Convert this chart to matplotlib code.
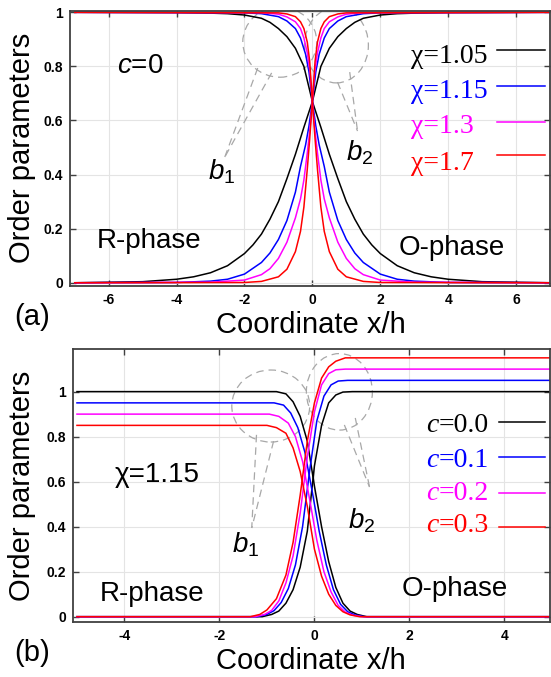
import matplotlib
matplotlib.use("Agg")
import matplotlib.pyplot as plt
from matplotlib.patches import Ellipse

plt.rcParams['font.family'] = ['Liberation Sans', 'DejaVu Sans']
plt.rcParams['mathtext.fontset'] = 'custom'
plt.rcParams['mathtext.rm'] = 'Liberation Sans'
plt.rcParams['mathtext.it'] = 'Liberation Sans:italic'
plt.rcParams['axes.unicode_minus'] = False

###############################################################################
# Data
###############################################################################

# panel (a): c=0, decreasing branch; the increasing branch is its mirror (-x)
chi_labels = ['χ=1.05', 'χ=1.15', 'χ=1.3', 'χ=1.7']
colors = ['black', 'blue', 'magenta', 'red']

a_x_105 = [-7, -4, -3, -2.5, -2, -1.5, -1.25, -1, -0.75, -0.5, -0.25, 0, 0.25, 0.5,
           0.75, 1, 1.25, 1.5, 1.75, 2, 2.5, 3, 3.5, 4, 5, 7]
a_y_105 = [1, 0.999, 0.997, 0.995, 0.99, 0.978, 0.963, 0.94, 0.91, 0.867, 0.80, 0.67,
           0.575, 0.475, 0.385, 0.30, 0.235, 0.18, 0.14, 0.108, 0.063, 0.037, 0.022,
           0.013, 0.004, 0]

a_x_115 = [-7, -2, -1.5, -1, -0.75, -0.5, -0.35, -0.2, -0.1, 0, 0.1, 0.2, 0.35, 0.5,
           0.75, 1, 1.25, 1.5, 2, 2.5, 3, 4, 7]
a_y_115 = [1, 0.998, 0.995, 0.984, 0.968, 0.94, 0.905, 0.845, 0.78, 0.67, 0.58, 0.51,
           0.43, 0.335, 0.23, 0.16, 0.11, 0.075, 0.032, 0.013, 0.006, 0.001, 0]

a_x_13 = [-7, -1.5, -1, -0.75, -0.5, -0.35, -0.25, -0.15, -0.07, 0, 0.07, 0.15, 0.25,
          0.35, 0.5, 0.75, 1, 1.25, 1.5, 2, 3, 7]
a_y_13 = [1, 0.999, 0.993, 0.983, 0.965, 0.94, 0.905, 0.85, 0.78, 0.67, 0.57, 0.48,
          0.38, 0.31, 0.24, 0.15, 0.09, 0.052, 0.03, 0.01, 0.002, 0]

a_x_17 = [-7, -1, -0.75, -0.5, -0.35, -0.25, -0.15, -0.08, 0, 0.08, 0.15, 0.25, 0.35,
          0.5, 0.75, 1, 1.5, 2, 7]
a_y_17 = [1, 0.998, 0.994, 0.984, 0.965, 0.94, 0.89, 0.82, 0.67, 0.53, 0.42, 0.28,
          0.19, 0.115, 0.05, 0.022, 0.005, 0.001, 0]

# panel (b): chi=1.15, decreasing (R) and increasing (O) branches
c_labels = ['0.0', '0.1', '0.2', '0.3']

b_xd_00 = [-5, -0.8, -0.6, -0.45, -0.3, -0.15, 0.0, 0.15, 0.3, 0.45, 0.6, 0.75, 0.9, 1.1, 5]
b_yd_00 = [1.0, 1.0, 0.99, 0.955, 0.89, 0.78, 0.58, 0.40, 0.245, 0.13, 0.06, 0.025, 0.01, 0.0, 0.0]
b_xi_00 = [-5, -1.1, -0.9, -0.75, -0.6, -0.45, -0.3, -0.15, 0.0, 0.15, 0.3, 0.45, 0.6, 0.8, 5]
b_yi_00 = [0, 0, 0.01, 0.025, 0.06, 0.12, 0.22, 0.38, 0.67, 0.85, 0.95, 0.985, 0.998, 1.0, 1.0]

b_xd_01 = [-5, -0.85, -0.65, -0.5, -0.35, -0.2, -0.05, 0.1, 0.25, 0.4, 0.55, 0.7, 0.85, 1.05, 5]
b_yd_01 = [0.95, 0.95, 0.94, 0.905, 0.84, 0.73, 0.56, 0.38, 0.23, 0.12, 0.055, 0.022, 0.008, 0.0, 0.0]
b_xi_01 = [-5, -1.2, -1.0, -0.85, -0.7, -0.55, -0.4, -0.25, -0.1, 0.05, 0.2, 0.35, 0.5, 0.7, 5]
b_yi_01 = [0, 0, 0.01, 0.027, 0.063, 0.125, 0.23, 0.40, 0.65, 0.87, 0.98, 1.03, 1.047, 1.05, 1.05]

b_xd_02 = [-5, -0.95, -0.75, -0.55, -0.4, -0.25, -0.1, 0.05, 0.2, 0.35, 0.5, 0.65, 0.8, 1.0, 5]
b_yd_02 = [0.90, 0.90, 0.89, 0.86, 0.80, 0.69, 0.52, 0.34, 0.20, 0.11, 0.05, 0.02, 0.007, 0.0, 0.0]
b_xi_02 = [-5, -1.25, -1.05, -0.9, -0.75, -0.6, -0.45, -0.3, -0.15, 0.0, 0.15, 0.3, 0.45, 0.65, 5]
b_yi_02 = [0, 0, 0.01, 0.028, 0.07, 0.15, 0.27, 0.46, 0.71, 0.91, 1.03, 1.08, 1.097, 1.10, 1.10]

b_xd_03 = [-5, -1.0, -0.8, -0.6, -0.45, -0.3, -0.15, 0.0, 0.15, 0.3, 0.45, 0.6, 0.75, 0.95, 5]
b_yd_03 = [0.85, 0.85, 0.84, 0.815, 0.75, 0.645, 0.49, 0.30, 0.18, 0.10, 0.05, 0.022, 0.008, 0.0, 0.0]
b_xi_03 = [-5, -1.35, -1.15, -1.0, -0.8, -0.6, -0.45, -0.3, -0.15, 0.0, 0.15, 0.3, 0.45, 0.65, 5]
b_yi_03 = [0, 0, 0.01, 0.03, 0.08, 0.185, 0.33, 0.54, 0.78, 0.95, 1.06, 1.11, 1.135, 1.15, 1.15]

a_xticks = [-6, -4, -2, 0, 2, 4, 6]
b_xticks = [-4, -2, 0, 2, 4]
yticks = [0, 0.2, 0.4, 0.6, 0.8, 1]
ytick_labels = ['0', '0.2', '0.4', '0.6', '0.8', '1']

###############################################################################
# Figure
###############################################################################

W, H = 551, 677
fig = plt.figure(figsize=(W / 100, H / 100), dpi=100)


def px_axes(l, t, r, b):
    return fig.add_axes([l / W, 1 - b / H, (r - l) / W, (b - t) / H])


def style(ax, xticks):
    ax.set_xticks(xticks)
    ax.set_xticklabels([str(t) for t in xticks])
    ax.set_yticks(yticks)
    ax.set_yticklabels(ytick_labels)
    ax.grid(color='#e4e4e4', lw=0.8)
    ax.set_axisbelow(True)
    ax.tick_params(direction='in', length=4, width=1, color='#404040',
                   top=True, right=True, labelsize=10, pad=5)
    for lab in ax.get_xticklabels() + ax.get_yticklabels():
        lab.set_fontweight('bold')
    for s in ax.spines.values():
        s.set_color('#404040')
        s.set_linewidth(1.3)


def callout(ax, center, w, h, base1, base2, tip):
    kw = dict(color='#a8a8a8', lw=0.9, ls=(0, (6, 4)))
    ax.add_patch(Ellipse(center, w, h, fill=False, ec='#a8a8a8', lw=0.9, ls=(0, (6, 4))))
    ax.plot([base1[0], tip[0]], [base1[1], tip[1]], **kw)
    ax.plot([base2[0], tip[0]], [base2[1], tip[1]], **kw)


# ---------------- panel (a) ----------------
ax = px_axes(70, 10.7, 550, 286)
ax.set_xlim(-7.14, 7.0)
ax.set_ylim(-0.012, 1.006)
style(ax, a_xticks)

a_curves = [(a_x_105, a_y_105), (a_x_115, a_y_115), (a_x_13, a_y_13), (a_x_17, a_y_17)]
for (xs, ys), col in zip(a_curves, colors):
    ax.plot(xs, ys, color=col, lw=1.1)
    ax.plot([-v for v in xs], ys, color=col, lw=1.1)

callout(ax, (-0.96, 0.89), 2.18, 0.26, (-1.61, 0.794), (-1.2, 0.776), (-2.58, 0.465))
callout(ax, (0.71, 0.879), 1.88, 0.28, (0.74, 0.742), (1.10, 0.779), (1.33, 0.561))

ax.text(-2.66, 0.41, '$b_1$', fontsize=20, ha='center', va='center')
ax.text(1.39, 0.48, '$b_2$', fontsize=20, ha='center', va='center')
ax.text(-5.08, 0.80, '$c$=0', fontsize=20, ha='center', va='center')
ax.text(-4.81, 0.155, 'R-phase', fontsize=20, ha='center', va='center')
ax.text(4.1, 0.13, 'O-phase', fontsize=20, ha='center', va='center')

leg_text_y = [0.811, 0.682, 0.553, 0.417]
leg_line_y = [0.861, 0.727, 0.594, 0.472]
for lab, col, ty, ly in zip(chi_labels, colors, leg_text_y, leg_line_y):
    ax.text(2.92, ty, lab, color=col, fontsize=20, family='Liberation Serif',
            ha='left', va='baseline')
    ax.plot([5.45, 6.86], [ly, ly], color=col, lw=1.1)

# ---------------- panel (b) ----------------
bx = px_axes(72.7, 349.3, 550, 622)
bx.set_xlim(-5.09, 4.96)
bx.set_ylim(-0.0236, 1.188)
style(bx, b_xticks)

b_curves = [(b_xd_00, b_yd_00, b_xi_00, b_yi_00),
            (b_xd_01, b_yd_01, b_xi_01, b_yi_01),
            (b_xd_02, b_yd_02, b_xi_02, b_yi_02),
            (b_xd_03, b_yd_03, b_xi_03, b_yi_03)]
for (xd, yd, xi, yi), col in zip(b_curves, colors):
    bx.plot(xd, yd, color=col, lw=1.1)
    bx.plot(xi, yi, color=col, lw=1.1)

callout(bx, (-0.92, 0.936), 1.64, 0.32, (-1.22, 0.808), (-0.86, 0.78), (-1.32, 0.394))
callout(bx, (0.525, 0.999), 1.39, 0.34, (0.63, 0.852), (0.86, 0.883), (1.16, 0.576))

bx.text(-1.45, 0.32, '$b_1$', fontsize=20, ha='center', va='center')
bx.text(0.99, 0.425, '$b_2$', fontsize=20, ha='center', va='center')
bx.text(-3.32, 0.63, 'χ=1.15', fontsize=20, ha='center', va='center')
bx.text(-3.42, 0.10, 'R-phase', fontsize=20, ha='center', va='center')
bx.text(2.96, 0.125, 'O-phase', fontsize=20, ha='center', va='center')

leg_text_y = [0.822, 0.667, 0.519, 0.378]
leg_line_y = [0.867, 0.708, 0.548, 0.399]
for lab, col, ty, ly in zip(c_labels, colors, leg_text_y, leg_line_y):
    t = bx.text(2.35, ty, 'c', color=col, fontsize=20, family='Liberation Serif',
                style='italic', ha='left', va='baseline')
    bx.annotate('=' + lab, xy=(1, 0), xycoords=t, color=col, fontsize=20,
                family='Liberation Serif', ha='left', va='bottom')
    bx.plot([3.89, 4.85], [ly, ly], color=col, lw=1.1)

# ---------------- labels ----------------
for top, bottom, tag in [(10.7, 286, '(a)'), (349.3, 622, '(b)')]:
    fig.text(311 / W, 1 - (bottom + 47) / H, 'Coordinate x/h', fontsize=21,
             ha='center', va='baseline')
    fig.text(22 / W, 1 - (top + bottom) / 2 / H, 'Order parameters', fontsize=21,
             rotation=90, ha='center', va='center')
    fig.text(32 / W, 1 - (bottom + 31) / H, tag, fontsize=21, ha='center', va='center')

fig.savefig('out.png', dpi=100)
